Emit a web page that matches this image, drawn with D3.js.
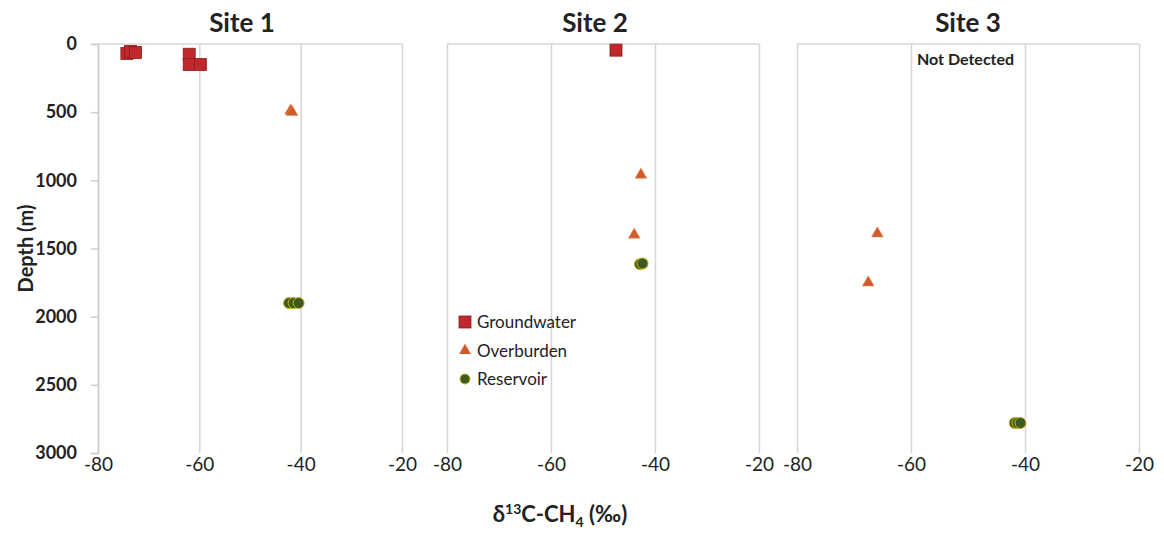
<!DOCTYPE html>
<html>
<head>
<meta charset="utf-8">
<script src="https://cdn.jsdelivr.net/npm/d3@7"></script>
<style>
  body { margin: 0; background: #fff; }
  text { font-family: Lato, "Open Sans", sans-serif; fill: #222; }
  .grid line { stroke: #d9d4d4; stroke-width: 1.5; }
</style>
</head>
<body>
<div id="graf"></div>
<script>
const sites = ["Site 1", "Site 2", "Site 3"]
const xTicks = [-80, -60, -40, -20]
const yTicks = [0, 500, 1000, 1500, 2000, 2500, 3000]
const seriesNames = ["Groundwater", "Overburden", "Reservoir"]

// [site index, d13C, depth]
const groundwater = [
  [0, -74.3, 70], [0, -73.6, 55], [0, -72.6, 62],
  [0, -62.0, 75], [0, -62.0, 150], [0, -59.8, 150],
  [1, -47.5, 45]
]
const overburden = [
  [0, -42.0, 490], [0, -41.7, 500],
  [1, -42.7, 960], [1, -44.0, 1400],
  [2, -65.9, 1390], [2, -67.5, 1750]
]
const reservoir = [
  [0, -42.3, 1900], [0, -41.4, 1900], [0, -40.4, 1900],
  [1, -42.9, 1615], [1, -42.4, 1610],
  [2, -41.8, 2780], [2, -41.3, 2780], [2, -40.8, 2780]
]

const W = 1164, H = 536
const yTop = 44, yBot = 453
const panels = [
  { x0: 98, x1: 402 },
  { x0: 447, x1: 759 },
  { x0: 797, x1: 1139 }
]

const svg = d3.select("#graf").append("svg").attr("width", W).attr("height", H)

const y = d3.scaleLinear().domain([0, 3000]).range([yTop, yBot])

const xs = panels.map(p => d3.scaleLinear().domain([-80, -20]).range([p.x0, p.x1]))

panels.forEach((p, i) => {
  const x = xs[i]
  const g = svg.append("g")

  // vertical gridlines
  g.append("g").attr("class", "grid")
    .attr("transform", `translate(0, ${yBot})`)
    .call(d3.axisBottom(x).tickValues(xTicks).tickSize(-(yBot - yTop)).tickFormat(""))
    .call(s => s.select(".domain").remove())

  // top horizontal line at depth 0
  g.append("line")
    .attr("x1", x(-80)).attr("x2", x(-20))
    .attr("y1", y(0)).attr("y2", y(0))
    .attr("stroke", "#d9d4d4").attr("stroke-width", 1.5)

  // x tick labels
  g.append("g")
    .attr("transform", `translate(0, ${yBot})`)
    .call(d3.axisBottom(x).tickValues(xTicks).tickSize(0).tickPadding(4).tickFormat(d => String(d)))
    .call(s => s.select(".domain").remove())
    .call(s => s.selectAll("text").style("font-size", "19px").attr("fill", "#333")
      .style("font-family", "Lato, sans-serif"))

  g.append("text")
    .attr("x", (p.x0 + p.x1) / 2 - (i === 2 ? 0 : 8))
    .attr("y", 32)
    .attr("text-anchor", "middle")
    .style("font-size", "26px").style("font-weight", "bold")
    .text(sites[i])
})

// y axis on first panel
svg.append("g")
  .attr("transform", `translate(${panels[0].x0}, 0)`)
  .call(d3.axisLeft(y).tickValues(yTicks).tickSize(7).tickPadding(14).tickFormat(d3.format("d")))
  .call(s => s.select(".domain").attr("stroke", "#d0cccc").attr("stroke-width", 1.5))
  .call(s => s.selectAll(".tick line").attr("stroke", "#d0cccc").attr("stroke-width", 1.5))
  .call(s => s.selectAll("text").style("font-size", "18px").style("font-weight", "bold").attr("fill", "#222")
    .style("font-family", "Lato, sans-serif"))

svg.append("text")
  .attr("transform", `translate(33, ${(yTop + yBot) / 2}) rotate(-90)`)
  .attr("text-anchor", "middle")
  .style("font-size", "20px").style("font-weight", "bold")
  .text("Depth (m)")

const xt = svg.append("text")
  .attr("x", 560).attr("y", 522)
  .attr("text-anchor", "middle")
  .style("font-size", "22px").style("font-weight", "bold")
xt.append("tspan").text("δ")
xt.append("tspan").attr("dy", -8).style("font-size", "14px").text("13")
xt.append("tspan").attr("dy", 8).text("C-CH")
xt.append("tspan").attr("dy", 5).style("font-size", "14px").text("4")
xt.append("tspan").attr("dy", -5).text(" (‰)")

svg.append("text")
  .attr("x", xs[2](-60) + 6).attr("y", 65)
  .style("font-size", "16px").style("font-weight", "bold")
  .text("Not Detected")

// markers
const sq = 12
svg.append("g").selectAll("rect").data(groundwater).join("rect")
  .attr("x", d => xs[d[0]](d[1]) - sq / 2)
  .attr("y", d => y(d[2]) - sq / 2)
  .attr("width", sq).attr("height", sq)
  .attr("fill", "#c0282b").attr("stroke", "#8a1c1c").attr("stroke-width", 0.8)

const tri = d3.symbol().type(d3.symbolTriangle).size(60)
svg.append("g").selectAll("path").data(overburden).join("path")
  .attr("transform", d => `translate(${xs[d[0]](d[1])}, ${y(d[2])})`)
  .attr("d", tri)
  .attr("fill", "#cf5c2a").attr("stroke", "#e58a5c").attr("stroke-width", 0.5)

svg.append("g").selectAll("circle").data(reservoir).join("circle")
  .attr("cx", d => xs[d[0]](d[1]))
  .attr("cy", d => y(d[2]))
  .attr("r", 5.5)
  .attr("fill", "#3c5a1f").attr("stroke", "#c9b21a").attr("stroke-width", 1)

// legend
const lg = svg.append("g").attr("transform", "translate(465, 322)")
seriesNames.forEach((name, i) => {
  const row = lg.append("g").attr("transform", `translate(0, ${i * 28.5})`)
  if (i === 0) {
    row.append("rect").attr("x", -6).attr("y", -6).attr("width", 12).attr("height", 12)
      .attr("fill", "#c0282b").attr("stroke", "#8a1c1c").attr("stroke-width", 0.8)
  } else if (i === 1) {
    row.append("path").attr("d", tri).attr("fill", "#cf5c2a")
  } else {
    row.append("circle").attr("r", 5).attr("fill", "#3c5a1f").attr("stroke", "#c9b21a")
  }
  row.append("text").attr("x", 12).attr("y", 6).style("font-size", "17px").attr("fill", "#333").text(name)
})
</script>
</body>
</html>
